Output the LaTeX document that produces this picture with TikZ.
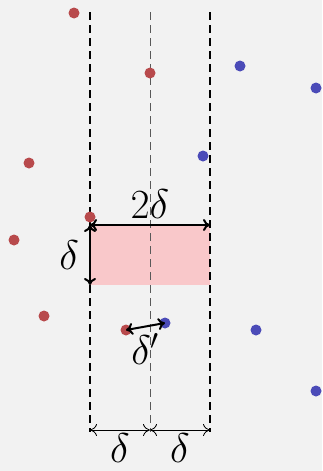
\documentclass[tikz,border=0pt]{standalone}
\usetikzlibrary{arrows.meta}
\definecolor{bgcol}{HTML}{F2F2F2}
\definecolor{ptred}{HTML}{B84A4C}
\definecolor{ptblue}{HTML}{4B4BB8}
\definecolor{stripfill}{HTML}{F9C8CA}
\begin{document}
\begin{tikzpicture}[x=0.5pt, y=-0.5pt, >={To[length=3.5pt, width=6pt]},
    redpt/.style={circle, fill=ptred, inner sep=0pt, minimum size=5.5pt},
    bluept/.style={circle, fill=ptblue, inner sep=0pt, minimum size=5.5pt},
    boundary/.style={line width=1pt, dash pattern=on 4pt off 2.5pt},
    midline/.style={line width=0.4pt, black!65, dash pattern=on 4pt off 2.5pt},
    dimarrow/.style={<->, line width=1pt},
    lbl/.style={font=\fontsize{21}{24}\selectfont, inner sep=1pt}]
    % ── background ──────────────────────────────────────────────────
    \fill[bgcol] (0,0) rectangle (322,471);
    \useasboundingbox (0,0) rectangle (322,471);

    % ── strip box ───────────────────────────────────────────────────
    \coordinate (boxtl) at (90,225);
    \coordinate (boxtr) at (210,225);
    \coordinate (boxbl) at (90,285);
    \fill[stripfill] (boxtl) rectangle (210,285);

    % ── strip boundaries ────────────────────────────────────────────
    \coordinate (ltop) at (90,12);   \coordinate (lbot) at (90,432);
    \coordinate (mtop) at (150,12);  \coordinate (mbot) at (150,432);
    \coordinate (rtop) at (210,12);  \coordinate (rbot) at (210,432);
    \draw[boundary] (ltop) -- (lbot);
    \draw[midline]  (mtop) -- (mbot);
    \draw[boundary] (rtop) -- (rbot);

    % ── points ──────────────────────────────────────────────────────
    \node[redpt] (r1) at (74,13) {};
    \node[redpt] (r2) at (150,73) {};
    \node[redpt] (r3) at (29,163) {};
    \node[redpt] (r4) at (90,217) {};
    \node[redpt] (r5) at (14,240) {};
    \node[redpt] (r6) at (44,316) {};
    \node[redpt] (r7) at (126,330) {};
    \node[bluept] (b1) at (240,66) {};
    \node[bluept] (b2) at (316,88) {};
    \node[bluept] (b3) at (203,156) {};
    \node[bluept] (b4) at (165,323) {};
    \node[bluept] (b5) at (256,330) {};
    \node[bluept] (b6) at (316,391) {};

    % ── dimensions ──────────────────────────────────────────────────
    \draw[dimarrow] (boxtl) -- (boxtr)
      node[midway, above=2pt, lbl] {$2\delta$};
    \draw[dimarrow] (boxtl) -- (boxbl)
      node[midway, left=4pt, lbl] {$\delta$};
    \draw[dimarrow] (r7.center) -- (b4.center)
      node[midway, below=2pt, lbl] {$\delta'$};

    \coordinate (dl) at (90,430);
    \coordinate (dm) at (150,430);
    \coordinate (dr) at (210,430);
    \draw[<->, line width=0.4pt] (dl) -- (dm)
      node[midway, below=1.5pt, lbl, inner sep=0pt] {$\delta$};
    \draw[<->, line width=0.4pt] (dm) -- (dr)
      node[midway, below=1.5pt, lbl, inner sep=0pt] {$\delta$};
\end{tikzpicture}
\end{document}
